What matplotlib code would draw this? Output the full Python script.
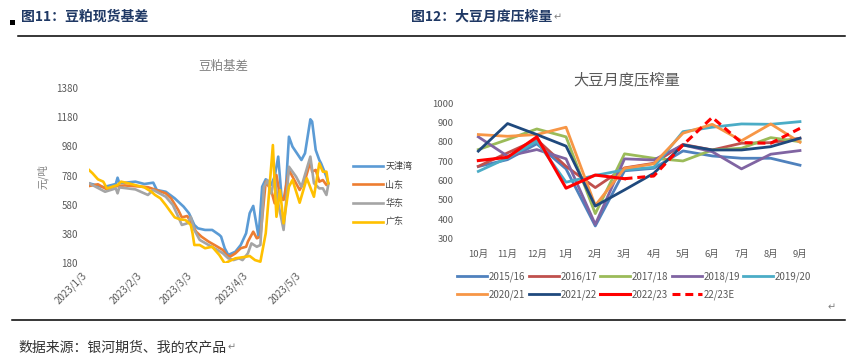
import matplotlib
matplotlib.use("Agg")
import matplotlib.pyplot as plt
from matplotlib.patches import Rectangle
from matplotlib.lines import Line2D
import pandas as pd

plt.rcParams['font.family'] = ['Noto Sans CJK SC', 'DejaVu Sans']

# ---------------- Left chart data: 豆粕基差 ----------------
tj_dates = ["2023-01-03","2023-01-11","2023-01-18","2023-01-19","2023-01-20","2023-01-29","2023-02-03",
            "2023-02-08","2023-02-10","2023-02-15","2023-02-20","2023-02-25","2023-02-28","2023-03-03",
            "2023-03-05","2023-03-09","2023-03-13","2023-03-17","2023-03-18","2023-03-20","2023-03-22",
            "2023-03-26","2023-03-29","2023-04-01","2023-04-03","2023-04-05","2023-04-08","2023-04-10",
            "2023-04-12","2023-04-15","2023-04-17","2023-04-19","2023-04-21","2023-04-23","2023-04-25",
            "2023-04-27","2023-05-02","2023-05-04","2023-05-07","2023-05-08","2023-05-10","2023-05-12",
            "2023-05-13","2023-05-16","2023-05-17"]
tj_vals = [727,700,722,765,727,738,722,731,681,669,624,567,522,442,419,408,408,374,362,283,237,
           259,305,385,522,572,362,703,754,715,772,909,613,635,1045,977,886,932,1164,1148,954,886,
           863,772,727]

sd_dates = ["2023-01-03","2023-01-08","2023-01-13","2023-01-17","2023-01-23","2023-01-31","2023-02-05",
            "2023-02-07","2023-02-15","2023-02-18","2023-02-22","2023-02-24","2023-02-27","2023-03-01",
            "2023-03-04","2023-03-07","2023-03-11","2023-03-15","2023-03-19","2023-03-21","2023-03-23",
            "2023-03-26","2023-03-29","2023-04-01","2023-04-02","2023-04-05","2023-04-07","2023-04-09",
            "2023-04-11","2023-04-12","2023-04-15","2023-04-17","2023-04-18","2023-04-20","2023-04-22",
            "2023-04-25","2023-04-28","2023-05-01","2023-05-04","2023-05-07","2023-05-08","2023-05-10",
            "2023-05-12","2023-05-14","2023-05-16","2023-05-17"]
sd_vals = [708,720,685,705,712,705,700,692,658,624,544,494,503,464,396,362,328,300,271,237,225,
           248,283,293,328,396,351,362,613,738,681,590,783,635,613,818,749,681,749,874,806,818,
           738,749,715,727]

hd_dates = ["2023-01-03","2023-01-12","2023-01-18","2023-01-19","2023-01-20","2023-01-29","2023-02-05",
            "2023-02-08","2023-02-15","2023-02-19","2023-02-22","2023-02-24","2023-02-27","2023-03-01",
            "2023-03-03","2023-03-06","2023-03-11","2023-03-16","2023-03-19","2023-03-22","2023-03-25",
            "2023-03-28","2023-03-30","2023-04-02","2023-04-04","2023-04-07","2023-04-09","2023-04-11",
            "2023-04-13","2023-04-15","2023-04-17","2023-04-19","2023-04-22","2023-04-24","2023-04-25",
            "2023-04-29","2023-05-02","2023-05-07","2023-05-09","2023-05-12","2023-05-14","2023-05-16",
            "2023-05-17"]
hd_vals = [727,669,692,658,699,685,647,681,635,578,498,442,453,498,408,340,305,271,248,214,202,
           214,202,248,316,293,305,703,749,658,761,590,408,681,840,772,703,909,727,692,692,647,715]

gd_dates = ["2023-01-03","2023-01-05","2023-01-08","2023-01-11","2023-01-13","2023-01-16","2023-01-19",
            "2023-01-21","2023-01-25","2023-01-31","2023-02-03","2023-02-07","2023-02-09","2023-02-12",
            "2023-02-15","2023-02-17","2023-02-20","2023-02-23","2023-02-26","2023-03-01","2023-03-02",
            "2023-03-03","2023-03-06","2023-03-09","2023-03-13","2023-03-17","2023-03-20","2023-03-26",
            "2023-04-01","2023-04-03","2023-04-06","2023-04-09","2023-04-12","2023-04-14","2023-04-16",
            "2023-04-17","2023-04-18","2023-04-20","2023-04-22","2023-04-25","2023-04-27","2023-05-01",
            "2023-05-05","2023-05-09","2023-05-12","2023-05-14","2023-05-16","2023-05-17"]
gd_vals = [818,795,754,738,692,703,715,738,727,708,699,669,647,624,578,544,494,480,476,442,385,
           305,305,283,293,237,180,214,225,230,202,191,385,681,988,727,498,681,453,703,749,594,
           761,635,863,806,806,727]

left_series = ["天津湾", "山东", "华东", "广东"]
left_colors = ["#5B9BD5", "#ED7D31", "#A5A5A5", "#FFC000"]
left_yticks = [180, 380, 580, 780, 980, 1180, 1380]
left_xticks = ["2023/1/3", "2023/2/3", "2023/3/3", "2023/4/3", "2023/5/3"]

# ---------------- Right chart data: 大豆月度压榨量 ----------------
months = ["10月", "11月", "12月", "1月", "2月", "3月", "4月", "5月", "6月", "7月", "8月", "9月"]
s1516 = [672, 708, 790, 660, 364, 650, 663, 753, 727, 715, 715, 679]
s1617 = [673, 743, 812, 673, 563, 665, 689, 787, 758, 793, 796, 819]
s1718 = [760, 812, 867, 826, 428, 738, 715, 701, 758, 767, 822, 801]
s1819 = [826, 726, 760, 712, 372, 712, 706, 784, 749, 660, 736, 755]
s1920 = [647, 717, 803, 591, 626, 655, 668, 853, 876, 893, 891, 905]
s2021 = [838, 829, 838, 876, 470, 663, 686, 845, 891, 806, 893, 798]
s2122 = [752, 895, 838, 778, 467, 551, 637, 784, 758, 758, 775, 819]
s2223 = [703, 720, 826, 560, 628, 609]
s2223e = [None, None, None, None, None, 609, 623, 784, 927, 796, 793, 870]
right_labels = ["2015/16", "2016/17", "2017/18", "2018/19", "2019/20",
                "2020/21", "2021/22", "2022/23", "22/23E"]
right_colors = ["#4F81BD", "#C0504D", "#9BBB59", "#8064A2", "#4BACC6",
                "#F79646", "#1F497D", "#FF0000", "#FF0000"]
right_yticks = [300, 400, 500, 600, 700, 800, 900, 1000]

W, H = 853, 363
fig = plt.figure(figsize=(W / 100, H / 100), dpi=100)
fig.patch.set_facecolor("white")

def fx(px):
    return px / W

def fy(py):
    return 1 - py / H

TICK = "#595959"

# ---------------- Left axes ----------------
axl = fig.add_axes([fx(89), fy(263.3), fx(330 - 89), (263.3 - 87.7) / H])
left_data = [(tj_dates, tj_vals), (sd_dates, sd_vals), (hd_dates, hd_vals), (gd_dates, gd_vals)]
for (d, v), name, c in zip(left_data, left_series, left_colors):
    axl.plot(pd.to_datetime(d), v, color=c, lw=1.9, label=name, solid_joinstyle="round")
axl.set_ylim(180, 1380)
axl.set_yticks(left_yticks)
axl.set_xlim(pd.Timestamp("2023-01-03"), pd.Timestamp("2023-05-18"))
tick_dates = pd.to_datetime(left_xticks, format="%Y/%m/%d")
axl.set_xticks(tick_dates)
axl.set_xticklabels(left_xticks, rotation=45, ha="right")
for s in axl.spines.values():
    s.set_visible(False)
axl.tick_params(axis="both", length=0, colors=TICK, labelsize=7)
axl.tick_params(axis="y", pad=8)
axl.tick_params(axis="x", pad=5)
fig.text(fx(223), fy(66), "豆粕基差", ha="center", va="center", fontsize=9, color="#808080")
fig.text(fx(43), fy(177), "元/吨", ha="center", va="center", rotation=90, fontsize=7.5, color="#808080")
leg = axl.legend(loc="upper left", bbox_to_anchor=(fx(353), fy(162)), bbox_transform=fig.transFigure,
                 frameon=False, fontsize=6.5, handlelength=3.3, handletextpad=0.3, labelspacing=1.05,
                 borderpad=0, borderaxespad=0)
for t in leg.get_texts():
    t.set_color("#404040")

# ---------------- Right axes ----------------
axr = fig.add_axes([fx(463.7), fy(238.3), fx(814.6 - 463.7), (238.3 - 103.3) / H])
x = list(range(len(months)))
series = [s1516, s1617, s1718, s1819, s1920, s2021, s2122]
handles = []
for vals, lab, c in zip(series, right_labels[:7], right_colors[:7]):
    h, = axr.plot(x, vals, color=c, lw=2.0, label=lab)
    handles.append(h)
h, = axr.plot(x[:len(s2223)], s2223, color=right_colors[7], lw=2.2, label=right_labels[7])
handles.append(h)
xe = [i for i, v in zip(x, s2223e) if v is not None]
ve = [v for v in s2223e if v is not None]
h, = axr.plot(xe, ve, color=right_colors[8], lw=2.2, ls=(0, (2.6, 1.6)), label=right_labels[8])
handles.append(h)
axr.set_xlim(-0.5, 11.5)
axr.set_ylim(300, 1000)
axr.set_yticks(right_yticks)
axr.set_xticks(x)
axr.set_xticklabels(months)
for s in axr.spines.values():
    s.set_visible(False)
axr.tick_params(axis="both", length=0, colors=TICK, labelsize=6.8)
axr.tick_params(axis="y", pad=7)
axr.tick_params(axis="x", pad=8)
fig.text(fx(627), fy(80), "大豆月度压榨量", ha="center", va="center", fontsize=11, color=TICK)
order = [0, 5, 1, 6, 2, 7, 3, 8, 4]
legr = axr.legend([handles[i] for i in order], [right_labels[i] for i in order],
                  loc="upper left", bbox_to_anchor=(fx(457), fy(271)), bbox_transform=fig.transFigure,
                  ncol=5, frameon=False, fontsize=7, handlelength=3.1, handletextpad=0.2,
                  columnspacing=0.3, labelspacing=0.85, borderpad=0, borderaxespad=0)
for t in legr.get_texts():
    t.set_color(TICK)

# ---------------- Page decorations ----------------
HEAD = "#1F3864"
fig.patches.append(Rectangle((fx(10), fy(25)), fx(5), 5 / H, transform=fig.transFigure,
                             facecolor="black", edgecolor="none"))
fig.text(fx(21), fy(17), "图11：豆粕现货基差", ha="left", va="center", fontsize=10,
         fontweight="bold", color=HEAD)
t_right = fig.text(fx(411), fy(17), "图12：大豆月度压榨量", ha="left", va="center", fontsize=10,
                   fontweight="bold", color=HEAD)
fig.add_artist(Line2D([fx(18), fx(845)], [fy(36), fy(36)], color="black", lw=1.1,
                      transform=fig.transFigure))
fig.add_artist(Line2D([fx(12), fx(845)], [fy(320), fy(320)], color="black", lw=1.1,
                      transform=fig.transFigure))
fig.text(fx(832), fy(307), "↵", ha="center", va="center", fontsize=7, color="#7F7F7F",
         family=["DejaVu Sans"])
t_foot = fig.text(fx(18), fy(347), "数据来源：银河期货、我的农产品", ha="left", va="center",
                  fontsize=10, color="#333333")

fig.canvas.draw()
r = fig.canvas.get_renderer()
for t in (t_right, t_foot):
    bb = t.get_window_extent(r)
    fig.text((bb.x1 + 1) / W, (bb.y0 + bb.y1) / 2 / H, "↵", ha="left", va="center", fontsize=7,
             color="#7F7F7F", family=["DejaVu Sans"])

fig.savefig("out.png", dpi=100, facecolor="white")
